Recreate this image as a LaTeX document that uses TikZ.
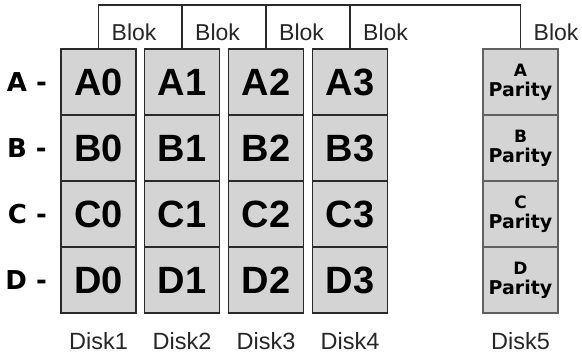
\documentclass[tikz,border=0pt]{standalone}
\usepackage{fontspec}
\setmainfont{Liberation Sans}
\newfontfamily\dvs{DejaVu Sans}
\definecolor{cellfill}{HTML}{D4D4D4}
\definecolor{darkline}{HTML}{2A2A2A}
\definecolor{greyline}{HTML}{606060}
\begin{document}
\begin{tikzpicture}[x=1pt,y=-1pt,
  cell/.style={draw=darkline,line width=1.4pt,fill=cellfill,minimum width=75pt,minimum height=66pt,inner sep=0pt,
    font=\fontsize{38}{40}\selectfont\bfseries},
  pcell/.style={draw=greyline,line width=1.4pt,fill=cellfill,minimum width=75pt,minimum height=66pt,inner sep=0pt,
    align=center,font=\dvs\bfseries\fontsize{19}{20}\selectfont},
  rowlab/.style={anchor=east,inner sep=0pt,font=\dvs\bfseries\fontsize{26}{28}\selectfont},
  bloklab/.style={anchor=west,inner sep=0pt,font=\fontsize{23}{25}\selectfont,text=black!85},
  disklab/.style={inner sep=0pt,font=\fontsize{23.5}{25}\selectfont,text=black!85},
  bracket/.style={draw=darkline,line width=1.4pt}
]
\useasboundingbox (0,0) rectangle (582,355);
% data disks
\foreach \c/\x in {0/98.5,1/182,2/266,3/350}{
  \foreach \r/\y in {A/82,B/148,C/214,D/280}{
    \node[cell] (d\c\r) at (\x,\y) {\r\c};
  }
}
% parity disk
\foreach \r/\y in {A/82,B/148,C/214,D/280}{
  \node[pcell] (d4\r) at (520.5,\y) {{\fontsize{17}{18}\selectfont \r}\\[0pt]Parity};
}
% row labels
\foreach \r/\y in {A/82,B/148,C/214,D/280}{
  \node[rowlab] (row\r) at (47,\y) {\r\ -};
}
% disk labels
\foreach \c/\n in {0/1,1/2,2/3,3/4,4/5}{
  \node[disklab] (disk\n) at ([yshift=-27pt]d\c D.south) {Disk\n};
}
% bracket
\coordinate (topc) at (0,5);
\draw[bracket] (d0A.north) -- (d0A.north |- topc) -- (d4A.north |- topc) -- (d4A.north);
\foreach \c in {1,2,3}{
  \draw[bracket] (d\c A.north) -- (d\c A.north |- topc);
}
% blok labels
\foreach \c/\n in {0/1,1/2,2/3,3/4,4/5}{
  \node[bloklab] (blok\n) at ([xshift=13pt,yshift=16pt]d\c A.north) {Blok};
}
\end{tikzpicture}
\end{document}
